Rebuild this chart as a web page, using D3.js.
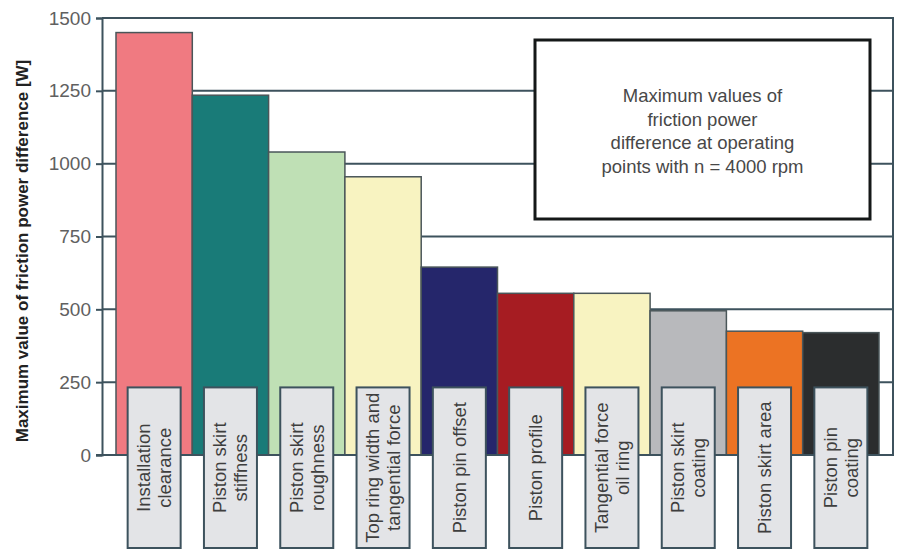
<!DOCTYPE html>
<html>
<head>
<meta charset="utf-8">
<script src="https://cdn.jsdelivr.net/npm/d3@7/dist/d3.min.js"></script>
<style>
  html, body { margin: 0; padding: 0; background: #ffffff; }
  svg { display: block; }
  text { font-family: "Liberation Sans", Arial, sans-serif; }
</style>
</head>
<body>
<svg id="chart" width="903" height="551"></svg>
<script>
// Influence parameters on friction power
const categories = [
  "Installation clearance",
  "Piston skirt stiffness",
  "Piston skirt roughness",
  "Top ring width and tangential force",
  "Piston pin offset",
  "Piston profile",
  "Tangential force oil ring",
  "Piston skirt coating",
  "Piston skirt area",
  "Piston pin coating"
];

// Wrapped label lines shown in the grey boxes
const labelLines = [
  ["Installation", "clearance"],
  ["Piston skirt", "stiffness"],
  ["Piston skirt", "roughness"],
  ["Top ring width and", "tangential force"],
  ["Piston pin offset"],
  ["Piston profile"],
  ["Tangential force", "oil ring"],
  ["Piston skirt", "coating"],
  ["Piston skirt area"],
  ["Piston pin", "coating"]
];

// Maximum friction power difference [W]
const values = [1450, 1235, 1040, 955, 645, 555, 555, 495, 425, 420];

const barColors = [
  "#f07a81", "#197b78", "#bfe0b5", "#f8f3c1", "#25266b",
  "#a61c22", "#f8f3c1", "#b8b9bc", "#ec7323", "#2b2d2e"
];

const yTicks = [0, 250, 500, 750, 1000, 1250, 1500];

const noteLines = [
  "Maximum values of",
  "friction power",
  "difference at operating",
  "points with n = 4000 rpm"
];

const yTitle = "Maximum value of friction power difference [W]";

// ---- layout ----
const frame = { left: 102, right: 893, top: 18, bottom: 455 };
const lineColor = "#3d525d";

const svg = d3.select("#chart");

const y = d3.scaleLinear().domain([0, 1500]).range([frame.bottom, frame.top]);
const x = d3.scaleBand().domain(categories).range([116, 879]).padding(0);

// horizontal grid lines (also forms the top border)
svg.append("g")
  .selectAll("line")
  .data(yTicks)
  .join("line")
  .attr("x1", frame.left)
  .attr("x2", frame.right)
  .attr("y1", d => y(d))
  .attr("y2", d => y(d))
  .attr("stroke", lineColor)
  .attr("stroke-width", 2);

// right border
svg.append("line")
  .attr("x1", frame.right).attr("x2", frame.right)
  .attr("y1", frame.top - 1).attr("y2", frame.bottom + 1)
  .attr("stroke", lineColor).attr("stroke-width", 2);

// left axis with ticks and labels
const yAxis = d3.axisLeft(y)
  .tickValues(yTicks)
  .tickSize(6)
  .tickPadding(5)
  .tickFormat(d3.format("d"));

const axisG = svg.append("g")
  .attr("transform", `translate(${frame.left},0)`)
  .call(yAxis);
axisG.select(".domain").attr("stroke", lineColor).attr("stroke-width", 2);
axisG.selectAll(".tick line").attr("stroke", lineColor).attr("stroke-width", 2);
axisG.selectAll(".tick text")
  .attr("fill", "#606060")
  .style("font-size", "19px")
  .style("font-family", "'Liberation Sans', Arial, sans-serif");

// bars
svg.append("g")
  .selectAll("rect")
  .data(values)
  .join("rect")
  .attr("x", (d, i) => x(categories[i]))
  .attr("y", d => y(d))
  .attr("width", x.bandwidth())
  .attr("height", d => y(0) - y(d))
  .attr("fill", (d, i) => barColors[i])
  .attr("stroke", "#4a5659")
  .attr("stroke-width", 1.5);

// baseline
svg.append("line")
  .attr("x1", frame.left - 6).attr("x2", frame.right)
  .attr("y1", y(0)).attr("y2", y(0))
  .attr("stroke", lineColor).attr("stroke-width", 2);

// category label boxes
const boxW = 53;
const boxTop = y(232);
const boxBottom = 548;

const labelG = svg.append("g")
  .selectAll("g")
  .data(categories)
  .join("g")
  .attr("transform", d => `translate(${x(d) + x.bandwidth() / 2},0)`);

labelG.append("rect")
  .attr("x", -boxW / 2)
  .attr("y", boxTop)
  .attr("width", boxW)
  .attr("height", boxBottom - boxTop)
  .attr("fill", "#e3e4e7")
  .attr("stroke", lineColor)
  .attr("stroke-width", 2);

const lineGap = 21;
labelG.append("text")
  .attr("transform", `translate(0,${(boxTop + boxBottom) / 2}) rotate(-90)`)
  .attr("text-anchor", "middle")
  .attr("fill", "#3e3e3e")
  .style("font-size", "18.5px")
  .each(function (d, i) {
    const lines = labelLines[i];
    const offset = -(lines.length - 1) * lineGap / 2;
    d3.select(this).selectAll("tspan")
      .data(lines)
      .join("tspan")
      .attr("x", 0)
      .attr("y", (l, j) => offset + j * lineGap)
      .attr("dy", "0.35em")
      .text(l => l);
  });

// note box
const note = { x: 535, y: 40, w: 335, h: 179 };
svg.append("rect")
  .attr("x", note.x).attr("y", note.y)
  .attr("width", note.w).attr("height", note.h)
  .attr("fill", "#ffffff")
  .attr("stroke", "#151818")
  .attr("stroke-width", 3);

svg.append("text")
  .attr("text-anchor", "middle")
  .attr("fill", "#484848")
  .style("font-size", "18.5px")
  .selectAll("tspan")
  .data(noteLines)
  .join("tspan")
  .attr("x", note.x + note.w / 2)
  .attr("y", (d, i) => 96 + i * 23.5)
  .attr("dy", "0.35em")
  .text(d => d);

// y-axis title
svg.append("text")
  .attr("transform", "translate(22,251) rotate(-90)")
  .attr("text-anchor", "middle")
  .attr("dy", "0.35em")
  .attr("fill", "#222222")
  .style("font-size", "17px")
  .style("font-weight", "bold")
  .text(yTitle);
</script>
</body>
</html>
